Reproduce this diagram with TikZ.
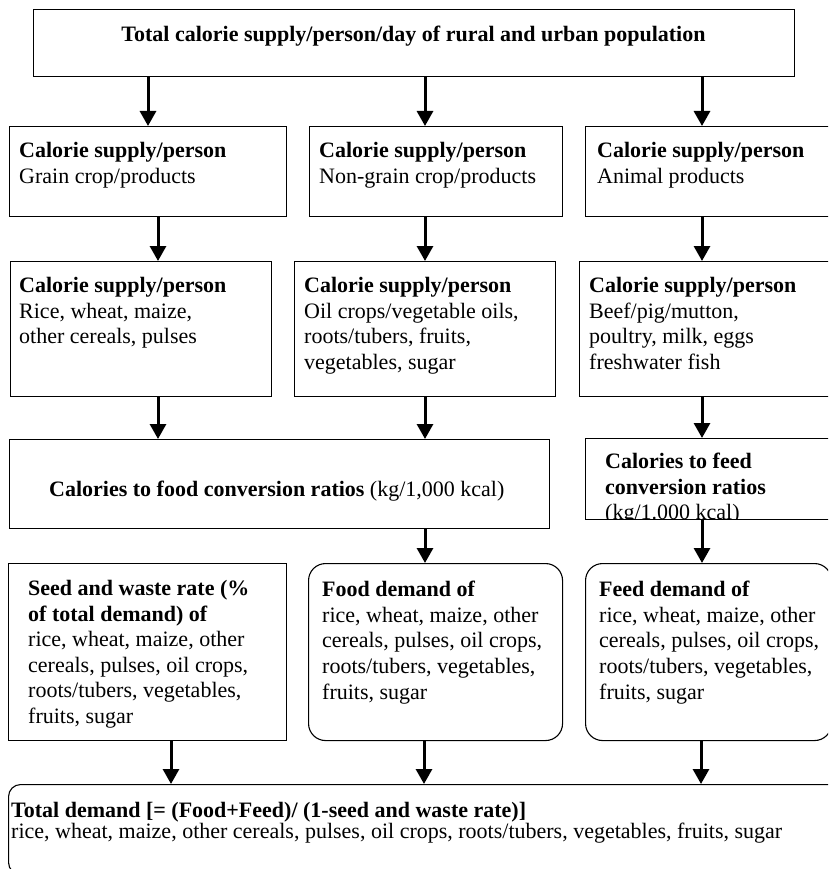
\documentclass[tikz,border=0pt]{standalone}
\usepackage{fontspec}
\setmainfont{Liberation Serif}
\usetikzlibrary{arrows.meta}
\newcommand{\mybox}[6][]{%
  \node[boxrect,#1,anchor=north west,minimum width={(#5)-(#3)},minimum height={(#6)-(#4)}] (#2) at (#3,#4) {};}
\begin{document}
\begin{tikzpicture}[x=1pt,y=-1pt,
  boxrect/.style={draw,line width=1.1pt,inner sep=0pt,rectangle},
  arr/.style={line width=3pt,-{Triangle[length=15pt,width=16pt]}},
  txt/.style={inner sep=0pt,align=left,font=\fontsize{22}{25.6}\selectfont},
]
\useasboundingbox (0,0) rectangle (828,869);
\clip (0,0) rectangle (828,869);

% boxes
\mybox{top}{33}{9}{794}{76}
\mybox{g1}{9}{126}{286}{216}
\mybox{g2}{309}{126}{562}{216}
\mybox{g3}{585}{126}{845}{216}
\mybox{r1}{10}{261}{271}{396}
\mybox{r2}{294}{261}{555}{396}
\mybox{r3}{579}{261}{845}{396}
\mybox{fc}{9}{439}{549}{528}
\mybox{fd}{585}{438}{845}{519}
\mybox{sw}{8}{563}{286}{740}
\mybox[rounded corners=17pt]{fdm}{308}{563}{562}{740}
\mybox[rounded corners=17pt]{fed}{585}{563}{831}{740}
\mybox[rounded corners=12pt]{td}{8}{784}{845}{874}

% texts
\node[txt,anchor=north,font=\bfseries\fontsize{22}{25.6}\selectfont] (ttop) at (413.5,26) {Total calorie supply/person/day of rural and urban population};
\node[txt,anchor=north west] (tg1) at (19,142) {\textbf{Calorie supply/person}\\Grain crop/products};
\node[txt,anchor=north west] (tg2) at (319,142) {\textbf{Calorie supply/person}\\Non-grain crop/products};
\node[txt,anchor=north west] (tg3) at (597,142) {\textbf{Calorie supply/person}\\Animal products};
\node[txt,anchor=north west] (tr1) at (19,277) {\textbf{Calorie supply/person}\\Rice, wheat, maize,\\other cereals, pulses};
\node[txt,anchor=north west] (tr2) at (304,277) {\textbf{Calorie supply/person}\\Oil crops/vegetable oils,\\roots/tubers, fruits,\\vegetables, sugar};
\node[txt,anchor=north west] (tr3) at (589,277) {\textbf{Calorie supply/person}\\Beef/pig/mutton,\\poultry, milk, eggs\\freshwater fish};
\node[txt,anchor=base west] (tfc) at (49,496) {\textbf{Calories to food conversion ratios} (kg/1,000 kcal)};
\begin{scope}
\clip (585,438) rectangle (845,519);
\node[txt,anchor=north west] (tfd) at (605,453) {\textbf{Calories to feed}\\\textbf{conversion ratios}\\(kg/1.000 kcal)};
\end{scope}
\node[txt,anchor=north west] (tsw) at (28,580) {\textbf{Seed and waste rate (\%}\\\textbf{of total demand) of}\\rice, wheat, maize, other\\cereals, pulses, oil crops,\\roots/tubers, vegetables,\\fruits, sugar};
\node[txt,anchor=north west] (tfdm) at (322,581) {\textbf{Food demand of}\\rice, wheat, maize, other\\cereals, pulses, oil crops,\\roots/tubers, vegetables,\\fruits, sugar};
\node[txt,anchor=north west] (tfed) at (599,581) {\textbf{Feed demand of}\\rice, wheat, maize, other\\cereals, pulses, oil crops,\\roots/tubers, vegetables,\\fruits, sugar};
\node[txt,anchor=north west,font=\fontsize{22}{21}\selectfont] (ttd) at (11,802) {\textbf{Total demand [= (Food+Feed)/ (1-seed and waste rate)]}\\rice, wheat, maize, other cereals, pulses, oil crops, roots/tubers, vegetables, fruits, sugar};

% connector x positions
\coordinate (xa) at (148,0);
\coordinate (xb) at (425,0);
\coordinate (xc) at (702,0);
\coordinate (xd) at (158,0);
\coordinate (xe) at (171,0);
\coordinate (xf) at (424,0);
\coordinate (xg) at (701,0);

\draw[arr] (top.south -| xa) -- (g1.north -| xa);
\draw[arr] (top.south -| xb) -- (g2.north -| xb);
\draw[arr] (top.south -| xc) -- (g3.north -| xc);
\draw[arr] (g1.south -| xd) -- (r1.north -| xd);
\draw[arr] (g2.south -| xb) -- (r2.north -| xb);
\draw[arr] (g3.south -| xc) -- (r3.north -| xc);
\draw[arr] (r1.south -| xd) -- (fc.north -| xd);
\draw[arr] (r2.south -| xb) -- (fc.north -| xb);
\draw[arr] (r3.south -| xc) -- (fd.north -| xc);
\draw[arr] (fc.south -| xb) -- (fdm.north -| xb);
\draw[arr] (fd.south -| xc) -- (fed.north -| xc);
\draw[arr] (sw.south -| xe) -- (td.north -| xe);
\draw[arr] (fdm.south -| xf) -- (td.north -| xf);
\draw[arr] (fed.south -| xg) -- (td.north -| xg);
\end{tikzpicture}
\end{document}
